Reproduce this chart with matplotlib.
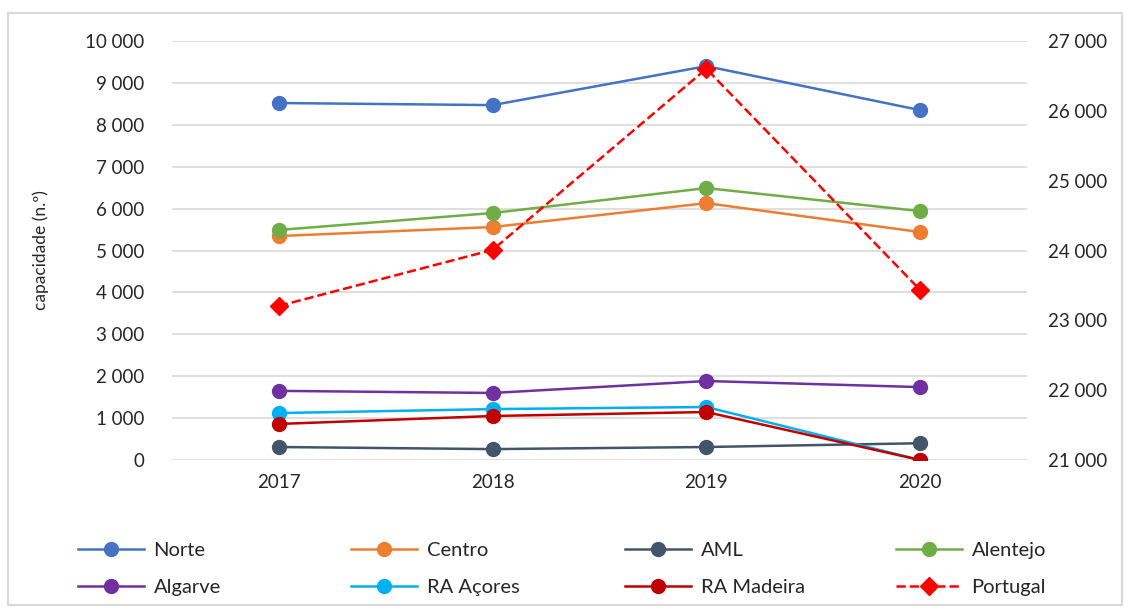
import matplotlib
matplotlib.use("Agg")
import matplotlib.pyplot as plt
from matplotlib.patches import Rectangle
from matplotlib.ticker import FuncFormatter, MultipleLocator

plt.rcParams["font.family"] = ["Lato", "DejaVu Sans"]

years = ["2017", "2018", "2019", "2020"]
norte = [8520, 8470, 9400, 8350]
centro = [5345, 5560, 6130, 5440]
aml = [310, 260, 310, 400]
alentejo = [5490, 5895, 6490, 5940]
algarve = [1650, 1600, 1885, 1740]
acores = [1120, 1215, 1265, 0]
madeira = [860, 1050, 1145, 0]
portugal = [23206, 24009, 26602, 23435]

series = [
    ("Norte", norte, "#4472C4"),
    ("Centro", centro, "#ED7D31"),
    ("AML", aml, "#44546A"),
    ("Alentejo", alentejo, "#70AD47"),
    ("Algarve", algarve, "#7030A0"),
    ("RA Açores", acores, "#00B0F0"),
    ("RA Madeira", madeira, "#C00000"),
]

fmt = FuncFormatter(lambda v, _: f"{int(v):,}".replace(",", " "))

fig = plt.figure(figsize=(11.31, 6.12), dpi=100)
fig.patches.append(Rectangle((8 / 1131, 7 / 612), 1114 / 1131, 592 / 612,
                             transform=fig.transFigure, fill=False,
                             edgecolor="#d9d9d9", linewidth=1.5))
ax = fig.add_axes([172 / 1131, 1 - 460 / 612, 855 / 1131, 419 / 612])
ax2 = ax.twinx()

x = range(len(years))
handles = []
for name, vals, col in series:
    h, = ax.plot(x, vals, color=col, lw=1.8, marker="o", ms=10, label=name)
    handles.append(h)
hp, = ax2.plot(x, portugal, color="#FF0000", lw=1.8, ls="--", marker="D",
               ms=9, label="Portugal")
handles.append(hp)

ax.set_xlim(-0.5, 3.5)
ax.set_ylim(0, 10000)
ax2.set_ylim(21000, 27000)
ax.yaxis.set_major_locator(MultipleLocator(1000))
ax2.yaxis.set_major_locator(MultipleLocator(1000))
ax.yaxis.set_major_formatter(fmt)
ax2.yaxis.set_major_formatter(fmt)
ax.set_xticks(list(x))
ax.set_xticklabels(years)
ax.grid(axis="y", color="#d9d9d9", lw=1.2)
ax.set_axisbelow(True)
for a in (ax, ax2):
    for s in a.spines.values():
        s.set_visible(False)
    a.tick_params(length=0, labelsize=13.5, colors="#262626")
ax.tick_params(axis="y", pad=20)
ax2.tick_params(axis="y", pad=15)
ax.tick_params(axis="x", pad=10)
ax.set_ylabel("capacidade (n.º)", fontsize=12.5, color="#262626", labelpad=26)

# four legend columns, two rows each
col_x = [78, 351, 625, 896]
for c in range(4):
    pair = [handles[c], handles[c + 4]]
    fig.legend(pair, [h.get_label() for h in pair], loc="upper left",
               bbox_to_anchor=(col_x[c] / 1131, 1 - 542 / 612),
               frameon=False, fontsize=14.5, handlelength=3.3,
               handletextpad=0.45, labelspacing=1.0, borderpad=0,
               borderaxespad=0, labelcolor="#262626")

fig.savefig("out.png", dpi=100)
